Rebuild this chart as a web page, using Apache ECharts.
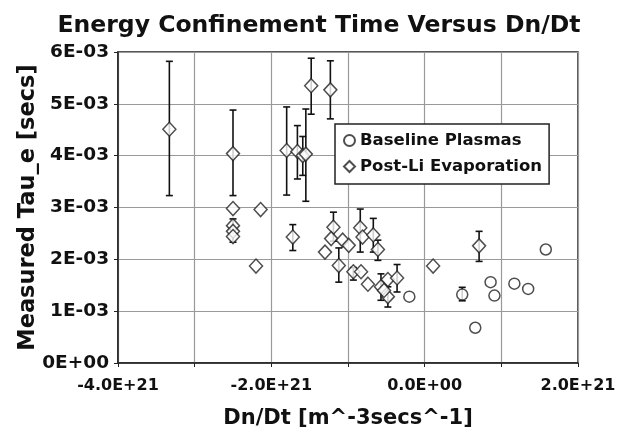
<!DOCTYPE html>
<html>
<head>
<meta charset="utf-8">
<script src="https://cdn.jsdelivr.net/npm/echarts@6/dist/echarts.min.js"></script>
<style>
  html, body { margin: 0; padding: 0; background: #fff; }
  #chart { width: 627px; height: 434px; }
</style>
</head>
<body>
<div id="chart"></div>
<script>
// values: Dn/Dt [m^-3 s^-1], tau_e [s]
const baseX = [-0.20e21, 0.49e21, 0.66e21, 0.86e21, 0.91e21, 1.17e21, 1.35e21, 1.58e21]
const baseY = [1.28e-3, 1.32e-3, 0.68e-3, 1.56e-3, 1.30e-3, 1.53e-3, 1.43e-3, 2.19e-3]
const baseLo = [null, 1.20e-3, null, null, null, null, null, null]
const baseHi = [null, 1.46e-3, null, null, null, null, null, null]

const postX = [-3.33e21, -2.50e21, -2.50e21, -2.50e21, -2.50e21, -2.50e21, -2.14e21, -2.20e21,
  -1.72e21, -1.80e21, -1.66e21, -1.59e21, -1.55e21, -1.48e21, -1.23e21, -1.19e21,
  -1.22e21, -1.07e21, -0.99e21, -1.30e21, -1.12e21, -0.84e21, -0.81e21, -0.67e21,
  -0.61e21, -0.93e21, -0.83e21, -0.74e21, -0.57e21, -0.48e21, -0.36e21, -0.48e21,
  -0.53e21, 0.11e21, 0.71e21]
const postY = [4.51e-3, 4.04e-3, 2.98e-3, 2.65e-3, 2.54e-3, 2.44e-3, 2.96e-3, 1.87e-3,
  2.43e-3, 4.10e-3, 4.08e-3, 4.00e-3, 4.03e-3, 5.35e-3, 5.27e-3, 2.62e-3,
  2.40e-3, 2.37e-3, 2.27e-3, 2.14e-3, 1.88e-3, 2.61e-3, 2.43e-3, 2.47e-3,
  2.19e-3, 1.76e-3, 1.76e-3, 1.52e-3, 1.47e-3, 1.61e-3, 1.64e-3, 1.28e-3,
  1.40e-3, 1.87e-3, 2.26e-3]
const postLo = [3.23e-3, 3.23e-3, null, null, 2.33e-3, null, null, null,
  2.17e-3, 3.24e-3, 3.55e-3, 3.62e-3, 3.12e-3, 4.80e-3, 4.71e-3, 2.35e-3,
  null, null, null, null, 1.56e-3, 2.14e-3, null, 2.14e-3,
  1.98e-3, 1.60e-3, null, null, 1.21e-3, null, 1.37e-3, 1.08e-3,
  null, null, 1.96e-3]
const postHi = [5.82e-3, 4.88e-3, null, null, 2.78e-3, null, null, null,
  2.67e-3, 4.94e-3, 4.58e-3, 4.37e-3, 4.90e-3, 5.88e-3, 5.83e-3, 2.91e-3,
  null, null, null, null, 2.22e-3, 2.97e-3, null, 2.79e-3,
  2.37e-3, 1.84e-3, null, null, 1.72e-3, null, 1.90e-3, 1.47e-3,
  null, null, 2.54e-3]

const xTicks = ['-4.0E+21', '-2.0E+21', '0.0E+00', '2.0E+21']

function errData(xs, lo, hi) {
  const out = []
  xs.forEach((x, i) => {
    if (lo[i] != null) out.push([x, lo[i], hi[i]])
  })
  return out
}

function renderErr(params, api) {
  const top = api.coord([api.value(0), api.value(2)])
  const bot = api.coord([api.value(0), api.value(1)])
  const w = 3.5
  const st = { stroke: '#111', lineWidth: 1.6 }
  return {
    type: 'group',
    children: [
      { type: 'line', shape: { x1: top[0], y1: top[1], x2: bot[0], y2: bot[1] }, style: st },
      { type: 'line', shape: { x1: top[0] - w, y1: top[1], x2: top[0] + w, y2: top[1] }, style: st },
      { type: 'line', shape: { x1: bot[0] - w, y1: bot[1], x2: bot[0] + w, y2: bot[1] }, style: st }
    ]
  }
}

const font = 'DejaVu Sans'
const chart = echarts.init(document.getElementById('chart'))
chart.setOption({
  animation: false,
  backgroundColor: '#fff',
  title: {
    text: 'Energy Confinement Time Versus Dn/Dt',
    left: 314,
    textAlign: 'center',
    top: 9,
    textStyle: { fontFamily: font, fontWeight: 'bold', fontSize: 23.5, color: '#111' }
  },
  grid: {
    left: 118, right: 49, top: 52, bottom: 71,
    show: true, borderColor: '#222', borderWidth: 1.5
  },
  legend: {
    orient: 'vertical',
    left: 335,
    top: 124,
    padding: [8, 7, 9, 8],
    itemGap: 9,
    itemWidth: 11,
    itemHeight: 11,
    borderColor: '#222',
    borderWidth: 1.5,
    backgroundColor: '#fff',
    data: ['Baseline Plasmas', 'Post-Li Evaporation'],
    textStyle: { fontFamily: font, fontWeight: 'bold', fontSize: 16.5, color: '#111' }
  },
  xAxis: {
    type: 'value',
    min: -4e21,
    max: 2e21,
    interval: 1e21,
    name: 'Dn/Dt [m^-3secs^-1]',
    nameLocation: 'middle',
    nameMoveOverlap: false,
    nameGap: 45,
    nameTextStyle: { fontFamily: font, fontWeight: 'bold', fontSize: 21, color: '#111' },
    axisLine: { onZero: false, lineStyle: { color: '#222', width: 1.5 } },
    axisTick: { show: true, length: 4, lineStyle: { color: '#222' } },
    splitLine: { lineStyle: { color: '#999', width: 1.2 } },
    axisLabel: {
      fontFamily: font, fontWeight: 'bold', fontSize: 16, color: '#111', margin: 15,
      formatter: v => {
        const k = Math.round(v / 1e21)
        if (k % 2 !== 0) return ''
        return xTicks[(k + 4) / 2]
      }
    }
  },
  yAxis: {
    type: 'value',
    min: 0,
    max: 6e-3,
    interval: 1e-3,
    name: 'Measured Tau_e [secs]',
    nameLocation: 'middle',
    nameMoveOverlap: false,
    nameGap: 78,
    nameTextStyle: { fontFamily: font, fontWeight: 'bold', fontSize: 22.5, color: '#111' },
    axisLine: { show: true, onZero: false, lineStyle: { color: '#222', width: 1.5 } },
    axisTick: { show: true, length: 4, lineStyle: { color: '#222' } },
    splitLine: { lineStyle: { color: '#999', width: 1.2 } },
    axisLabel: {
      fontFamily: font, fontWeight: 'bold', fontSize: 18.5, color: '#111', margin: 9,
      formatter: v => {
        const k = Math.round(v * 1000)
        return k === 0 ? '0E+00' : k + 'E-03'
      }
    }
  },
  series: [
    {
      name: 'errBase',
      type: 'custom',
      renderItem: renderErr,
      encode: { x: 0, y: [1, 2] },
      data: errData(baseX, baseLo, baseHi),
      z: 1
    },
    {
      name: 'errPost',
      type: 'custom',
      renderItem: renderErr,
      encode: { x: 0, y: [1, 2] },
      data: errData(postX, postLo, postHi),
      z: 1
    },
    {
      name: 'Baseline Plasmas',
      type: 'scatter',
      symbol: 'circle',
      symbolSize: 11,
      itemStyle: { color: '#fff', borderColor: '#222', borderWidth: 1.5 },
      data: baseX.map((x, i) => [x, baseY[i]]),
      z: 3
    },
    {
      name: 'Post-Li Evaporation',
      type: 'scatter',
      symbol: 'diamond',
      symbolSize: [13, 14],
      itemStyle: { color: '#fff', borderColor: '#222', borderWidth: 1.5 },
      data: postX.map((x, i) => [x, postY[i]]),
      z: 3
    }
  ]
})
</script>
</body>
</html>
